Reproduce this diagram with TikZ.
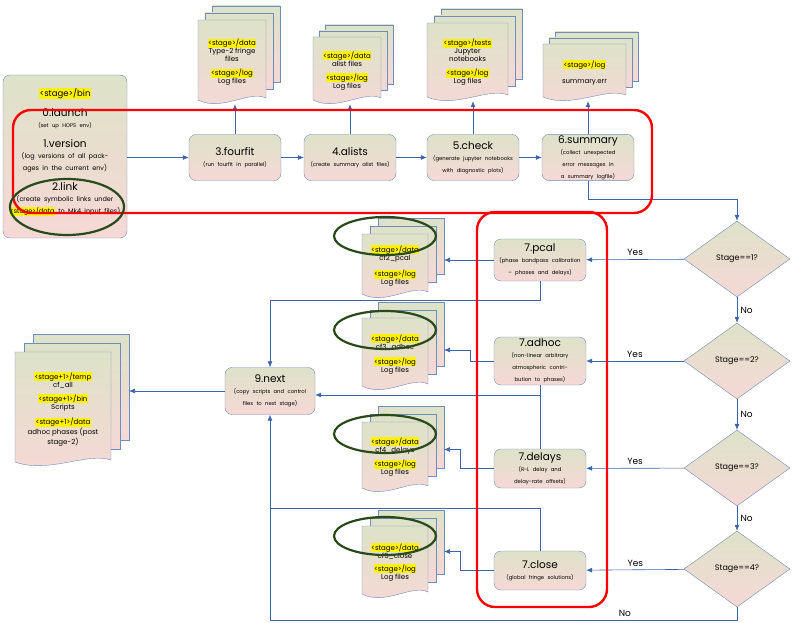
\documentclass[tikz,border=0pt]{standalone}
\usepackage{fontspec}
\setmainfont{Poppins}
\usetikzlibrary{shapes.geometric,arrows.meta,positioning}
\definecolor{edgeblue}{RGB}{110,140,190}
\definecolor{flowblue}{RGB}{60,100,170}
\definecolor{topfill}{RGB}{221,226,200}
\definecolor{botfill}{RGB}{246,216,214}
\definecolor{ringgreen}{RGB}{40,75,25}
\tikzset{>={Latex[length=6pt,width=5pt]}}
\tikzset{proc/.style = {draw=edgeblue, rounded corners=7pt, top color=topfill, bottom color=botfill,
                        minimum width=92pt, minimum height=46pt, text width=84pt, align=center, inner sep=1pt},
         dec/.style = {diamond, draw=edgeblue, top color=topfill, bottom color=botfill, aspect=1.4,
                       minimum width=106pt, minimum height=76pt, inner sep=0pt, font=\fontsize{8}{9}\selectfont},
         flow/.style = {draw=flowblue, line width=0.6pt, ->},
         lane/.style = {draw=flowblue, line width=0.6pt},
         sheet/.style = {draw=edgeblue, top color=topfill, bottom color=botfill},
         ring/.style = {draw=ringgreen, line width=2.2pt},
         loop/.style = {draw=red, line width=2.4pt, rounded corners=18pt},
         lbl/.style = {font=\fontsize{9}{10}\selectfont}}
\newcommand\ttl[1]{{\fontsize{10.5}{12}\selectfont #1}\\[-1pt]}
\newcommand\sub[1]{{\fontsize{5.3}{6.3}\selectfont #1}}
\newcommand\hl[1]{{\setlength\fboxsep{0.4pt}\colorbox{yellow}{#1}}}
% name, left, top, width, height, offset, text
\newcommand\docstack[7]{%
  \foreach \o in {2,1}{
    \draw[sheet] (#2+\o*#6,#3-\o*#6) rectangle (#2+#4+\o*#6,#3+#5-8-\o*#6);}
  \draw[sheet] (#2,#3) -- (#2+#4,#3) -- (#2+#4,#3+#5-6)
     .. controls (#2+0.75*#4,#3+#5-14) and (#2+0.35*#4,#3+#5+8) .. (#2,#3+#5-4) -- cycle;
  \node[minimum width=#4, minimum height=#5, inner sep=0pt, align=center,
        font=\fontsize{7}{8}\selectfont] (#1) at (#2+#4/2,#3+#5/2) {#7};
  \coordinate (#1r) at (#2+#4+2*#6,#3);
}
\begin{document}
\begin{tikzpicture}[x=1pt,y=-1pt]
\useasboundingbox (0,0) rectangle (793,623);

% top row
\node[proc, minimum width=124pt, minimum height=163pt] (bin) at (65,156.5) {};
\node[anchor=north, text width=118pt, align=center, inner sep=0pt] at (65,88)
  {{\fontsize{8.5}{10}\selectfont\hl{<stage>/bin}}\\[8pt]
   \ttl{0.launch}\sub{(set up HOPS env)}\\[8pt]
   \ttl{1.version}{\fontsize{6.5}{7.5}\selectfont(log versions of all packages in the current env)}\\[8pt]
   \ttl{2.link}{\fontsize{6.5}{7.5}\selectfont(create symbolic links under \hl{<stage>/data} to Mk4 input files)}};
\node[proc] (ff) at (235,157.5) {\ttl{3.fourfit}\sub{(run fourfit in parallel)}};
\node[proc] (al) at (350,157.5) {\ttl{4.alists}\sub{(create summary alist files)}};
\node[proc] (ck) at (473,157.5) {\ttl{5.check}\sub{(generate jupyter notebooks with diagnostic plots)}};
\node[proc] (sm) at (588,157.5) {\ttl{6.summary}\sub{(collect unexpected error messages in a summary logfile)}};

\docstack{ffd}{198}{20}{68}{84}{7}{\hl{<stage>/data}\\Type-2 fringe\\files\\[6pt]\hl{<stage>/log}\\Log files}
\docstack{ald}{313}{37}{68}{67}{6}{\hl{<stage>/data}\\alist files\\[6pt]\hl{<stage>/log}\\Log files}
\docstack{ckd}{427}{23}{81}{78}{7}{\hl{<stage>/tests}\\Jupyter\\notebooks\\[6pt]\hl{<stage>/log}\\Log files}
\docstack{smd}{543}{44}{83}{57}{6}{\hl{<stage>/log}\\[8pt]summary.err}

\draw[flow] (bin.east |- ff.west) -- (ff.west);
\draw[flow] (ff) -- (al);
\draw[flow] (al) -- (ck);
\draw[flow] (ck) -- (sm);
\foreach \p in {ff,al,ck,sm}
  \draw[flow] (\p.north) -- (\p.north |- \p d.south);

% decisions
\node[dec] (d1) at (737,259) {Stage==1?};
\node[dec] (d2) at (737,361) {Stage==2?};
\node[dec] (d3) at (737,468) {Stage==3?};
\node[dec] (d4) at (737,569) {Stage==4?};

% stage 7 steps
\node[proc, minimum height=42pt] (pcal) at (540,260) {\ttl{7.pcal}\sub{(phase bandpass calibration -- phases and delays)}};
\node[proc, minimum height=48pt] (adhoc) at (540,361) {\ttl{7.adhoc}\sub{(non-linear arbitrary atmospheric contribution to phases)}};
\node[proc, minimum height=39pt] (delays) at (540,468.5) {\ttl{7.delays}\sub{(R-L delay and delay-rate offsets)}};
\node[proc, minimum height=39pt] (close) at (540,570.5) {\ttl{7.close}\sub{(global fringe solutions)}};

\docstack{cf2}{362}{234}{66}{64}{8}{\hl{<stage>/data}\\cf2\_pcal\\[7pt]\hl{<stage>/log}\\Log files}
\docstack{cf3}{362}{318}{66}{72}{8}{\hl{<stage>/data}\\cf3\_adhoc\\[7pt]\hl{<stage>/log}\\Log files}
\docstack{cf4}{362}{422}{66}{70}{8}{\hl{<stage>/data}\\cf4\_delays\\[5pt]\hl{<stage>/log}\\Log files}
\docstack{cf5}{362}{526}{66}{72}{8}{\hl{<stage>/data}\\cf5\_close\\[5pt]\hl{<stage>/log}\\Log files}

\node[proc, minimum width=90pt, minimum height=47pt] (nx) at (270,391) {\ttl{9.next}\sub{(copy scripts and control files to next stage)}};
\docstack{out}{15}{352}{96}{114}{9}{\hl{<stage+1>/temp}\\cf\_all\\[6pt]\hl{<stage+1>/bin}\\Scripts\\[6pt]\hl{<stage+1>/data}\\adhoc phases (post\\stage-2)}

% connectors
\draw[flow] (sm.south) -- ++(0,19) -| (d1.north);
\draw[flow] (d1) -- node[lbl, above] {Yes} (pcal);
\draw[flow] (d2) -- node[lbl, above] {Yes} (adhoc);
\draw[flow] (d3) -- node[lbl, above] {Yes} (delays);
\draw[flow] (d4) -- node[lbl, above] {Yes} (close);
\draw[flow] (d1) -- node[lbl, right] {No} (d2);
\draw[flow] (d2) -- node[lbl, right] {No} (d3);
\draw[flow] (d3) -- node[lbl, right] {No} (d4);
\draw[flow] (d4.south) -- ++(0,13) -| node[lbl, pos=0.12, above] {No} (nx.south);

\draw[flow] (pcal.west) -- (pcal.west -| cf2r);
\draw[flow] (adhoc.west) -- ++(-24,0) |- ([yshift=11pt]adhoc.west -| cf3r);
\draw[flow] (delays.west) -- ++(-34,0) |- ([yshift=19pt]delays.west -| cf4r);
\draw[flow] (close.west) -- ++(-34,0) |- ([yshift=19pt]close.west -| cf5r);

\draw[flow] (pcal.south) -- ++(0,19) -| (nx.north);
\coordinate (j1) at (540,395);
\coordinate (j2) at (540,508);
\draw[lane] (adhoc.south) -- (delays.north);
\draw[flow] (j1) -- (j1 -| nx.east);
\draw[lane] (close.north) -- (j2) -- (j2 -| nx.south);
\draw[flow] (nx.west) -- (nx.west -| outr);

% highlights
\draw[loop] (13,110) rectangle (652,213);
\draw[loop] (477,212) rectangle (607,607);
\draw[ring] (67,207) ellipse [x radius=57, y radius=28];
\foreach \y in {236,330,434,536}
  \draw[ring] (385,\y) ellipse [x radius=51, y radius=19];
\end{tikzpicture}
\end{document}
